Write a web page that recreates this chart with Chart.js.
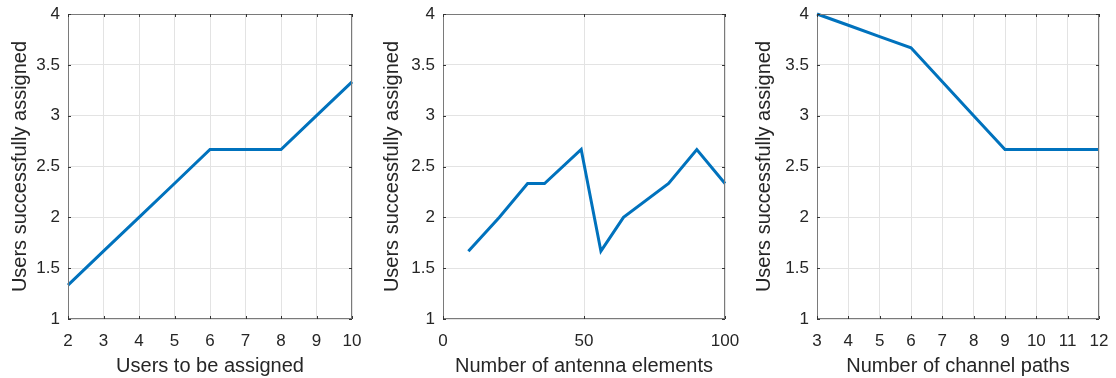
<!DOCTYPE html>
<html>
<head>
<meta charset="utf-8">
<script src="https://cdn.jsdelivr.net/npm/chart.js@4.4.0/dist/chart.umd.min.js"></script>
<style>
  body { margin: 0; background: #fff; }
  .box { position: absolute; top: 0; width: 372px; height: 378px; }
  #b1 { left: 0; }
  #b2 { left: 372px; }
  #b3 { left: 744px; }
</style>
</head>
<body>
<div class="box" id="b1"><canvas id="c1"></canvas></div>
<div class="box" id="b2"><canvas id="c2"></canvas></div>
<div class="box" id="b3"><canvas id="c3"></canvas></div>
<script>
// panel 1: users to be assigned
const usersX = [2, 3, 4, 5, 6, 7, 8, 9, 10]
const usersY = [1.333, 1.667, 2.0, 2.333, 2.667, 2.667, 2.667, 3.0, 3.333]

// panel 2: antenna elements
const antennaX = [9, 20, 30, 36, 49, 56, 64, 80, 90, 100]
const antennaY = [1.667, 2.0, 2.333, 2.333, 2.667, 1.667, 2.0, 2.333, 2.667, 2.333]

// panel 3: channel paths
const pathsX = [3, 4, 5, 6, 7, 8, 9, 10, 11, 12]
const pathsY = [4.0, 3.889, 3.778, 3.667, 3.333, 3.0, 2.667, 2.667, 2.667, 2.667]

const yTicks = [1, 1.5, 2, 2.5, 3, 3.5, 4]
const yTitle = 'Users successfully assigned'

const txt = '#262626'
const gridCol = '#e3e3e3'
const boxCol = '#7a7a7a'
const font = 'Liberation Sans, Arial, Helvetica, sans-serif'

// box around plot area + inward ticks on all four sides
const matlabBox = {
  id: 'matlabBox',
  afterDraw(c) {
    const ctx = c.ctx, a = c.chartArea
    const xs = c.scales.x, ys = c.scales.y
    ctx.save()
    ctx.strokeStyle = boxCol
    ctx.lineWidth = 1
    ctx.strokeRect(a.left + 0.5, a.top + 0.5, a.right - a.left - 1, a.bottom - a.top - 1)
    ctx.strokeStyle = '#333'
    ctx.beginPath()
    xs.ticks.forEach(t => {
      const px = Math.round(xs.getPixelForValue(t.value)) + 0.5
      ctx.moveTo(px, a.bottom); ctx.lineTo(px, a.bottom - 3)
      ctx.moveTo(px, a.top); ctx.lineTo(px, a.top + 3)
    })
    ys.ticks.forEach(t => {
      const py = Math.round(ys.getPixelForValue(t.value)) + 0.5
      ctx.moveTo(a.left, py); ctx.lineTo(a.left + 3, py)
      ctx.moveTo(a.right, py); ctx.lineTo(a.right - 3, py)
    })
    ctx.stroke()
    ctx.restore()
  }
}

function makeChart(id, xs, ys, opt) {
  const pts = xs.map((x, i) => ({x: x, y: ys[i]}))
  return new Chart(document.getElementById(id), {
    type: 'line',
    data: {
      datasets: [{
        data: pts,
        borderColor: '#0072BD',
        borderWidth: 3,
        pointRadius: 0,
        fill: false,
        tension: 0,
        borderJoinStyle: 'miter',
        clip: 4
      }]
    },
    options: {
      responsive: true,
      maintainAspectRatio: false,
      animation: false,
      layout: { padding: { top: 14, right: opt.padRight, left: 0, bottom: 0 } },
      plugins: { legend: { display: false }, tooltip: { enabled: false } },
      scales: {
        x: {
          type: 'linear',
          min: opt.xmin, max: opt.xmax,
          afterBuildTicks: s => { s.ticks = opt.xTicks.map(v => ({value: v})) },
          afterFit: s => { s.height = 59; s.paddingLeft = 0; s.paddingRight = 0 },
          grid: { color: gridCol, drawTicks: false },
          border: { display: false },
          ticks: { color: txt, font: { family: font, size: 17 }, padding: 12, maxRotation: 0, autoSkip: false,
                   callback: v => String(v) },
          title: { display: true, text: opt.xTitle, color: txt, font: { family: font, size: 20 }, padding: { top: 0, bottom: 0 } }
        },
        y: {
          min: 1, max: 4,
          afterBuildTicks: s => { s.ticks = yTicks.map(v => ({value: v})) },
          afterFit: s => { s.width = opt.yWidth; s.paddingTop = 0; s.paddingBottom = 0 },
          grid: { color: gridCol, drawTicks: false },
          border: { display: false },
          ticks: { color: txt, font: { family: font, size: 17 }, padding: 8, callback: v => String(v) },
          title: { display: true, text: yTitle, color: txt, font: { family: font, size: 20 }, padding: { top: 8, bottom: 0 } }
        }
      }
    },
    plugins: [matlabBox]
  })
}

makeChart('c1', usersX, usersY, {
  xmin: 2, xmax: 10, xTicks: [2, 3, 4, 5, 6, 7, 8, 9, 10],
  xTitle: 'Users to be assigned', yWidth: 68, padRight: 20
})
makeChart('c2', antennaX, antennaY, {
  xmin: 0, xmax: 100, xTicks: [0, 50, 100],
  xTitle: 'Number of antenna elements', yWidth: 71, padRight: 19
})
makeChart('c3', pathsX, pathsY, {
  xmin: 3, xmax: 12, xTicks: [3, 4, 5, 6, 7, 8, 9, 10, 11, 12],
  xTitle: 'Number of channel paths', yWidth: 73, padRight: 17
})
</script>
</body>
</html>
